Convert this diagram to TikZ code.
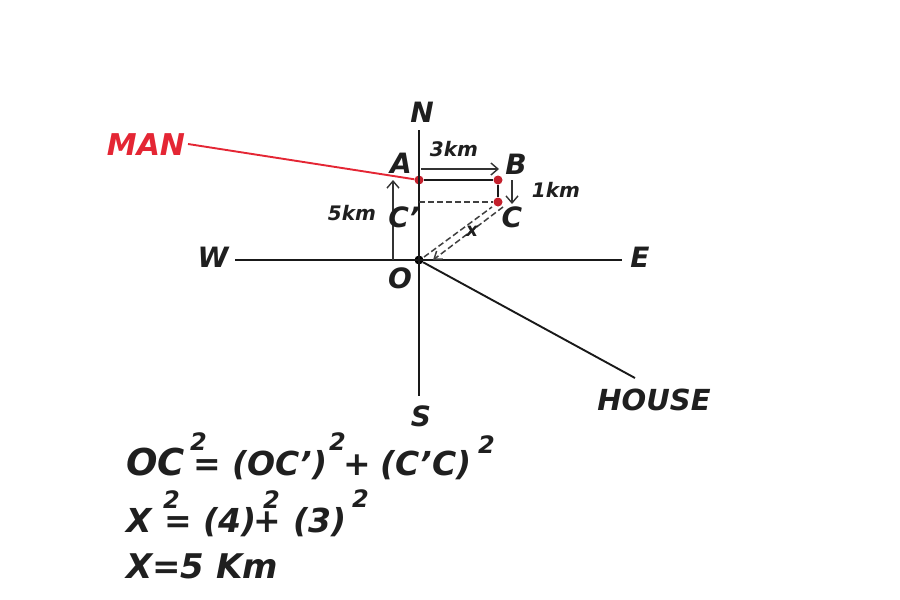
\documentclass[tikz,border=0pt]{standalone}
\usepackage{fontspec}
\setmainfont{DejaVu Sans}
\usetikzlibrary{arrows.meta}
\definecolor{manred}{RGB}{228,38,52}
\definecolor{dotred}{RGB}{196,32,44}
\tikzset{
 lab/.style={inner sep=0pt,font=\bfseries\itshape\fontsize{#1}{#1}\selectfont,text=black!88},
 lab/.default=28,
 dot/.style={circle,fill=#1,inner sep=0pt,minimum size=9pt},
 ln/.style={draw=black!90,line width=1.9pt},
 thin arrow/.style={draw=black!80,line width=1.4pt,-{Straight Barb[length=7pt,width=12pt]}},
 dash line/.style={draw=black!75,line width=1.5pt,dash pattern=on 6pt off 3pt}
}
\begin{document}
\begin{tikzpicture}[x=1pt,y=-1pt]
\useasboundingbox (0,0) rectangle (900,600);
% points
\node[dot=black] (O) at (419,260) {};
\node[dot=dotred] (A) at (419,180) {};
\node[dot=dotred] (B) at (498,180) {};
\node[dot=dotred] (C) at (498,202) {};
\coordinate (Cp) at (419,202);
\coordinate (Nt) at (419,130);
\coordinate (St) at (419,396);
\coordinate (Wt) at (235,260);
\coordinate (Et) at (622,260);
\coordinate (Ht) at (635,378);
\coordinate (Mt) at (188,144);
\coordinate (a5s) at (393,260);
\coordinate (a5e) at (393,180);
\coordinate (a3s) at (421,169);
\coordinate (a3e) at (499,169);
\coordinate (a1s) at (512,180);
\coordinate (a1e) at (512,204);
\coordinate (d1s) at (424,257);
\coordinate (d1e) at (492,207);
\coordinate (d2s) at (433,260);
\coordinate (d2e) at (503,207);
% lines
\draw[ln] (Nt) -- (St);
\draw[ln] (Wt) -- (Et);
\draw[ln] (O) -- (Ht);
\draw[ln] (A) -- (B);
\draw[ln] (B) -- (C);
\draw[draw=manred,line width=1.9pt] (Mt) -- (A);
\draw[dash line] (Cp) -- (C);
\draw[dash line] (d1s) -- (d1e);
\draw[dash line,-{Straight Barb[length=7pt,width=10pt]}] (d2e) -- (d2s);
\draw[thin arrow] (a5s) -- (a5e);
\draw[thin arrow] (a3s) -- (a3e);
\draw[thin arrow] (a1s) -- (a1e);
% labels
\node[lab] (Nl) at (422,112) {N};
\node[lab] (Sl) at (421,416) {S};
\node[lab] (Wl) at (213,257) {W};
\node[lab] (El) at (640,257) {E};
\node[lab] (Ol) at (400,278) {O};
\node[lab] (Al) at (401,163) {A};
\node[lab] (Bl) at (516,164) {B};
\node[lab] (Cl) at (512,217) {C};
\node[lab] (Cpl) at (404,217) {C'};
\node[lab=19] (xl) at (472,231) {x};
\node[lab=20] (k3) at (454,149) {3km};
\node[lab=20] (k1) at (556,190) {1km};
\node[lab=20] (k5) at (352,213) {5km};
\node[lab=30,text=manred] (man) at (146,145) {MAN};
\node[lab=29] (house) at (654,400) {HOUSE};
% equations
\node[lab=37,anchor=base west] (e1a) at (126,475) {OC};
\node[lab=33,anchor=base west] (e1b) at (193,475) {=};
\node[lab=33,anchor=base west] (e1c) at (232,475) {(OC')};
\node[lab=33,anchor=base west] (e1d) at (343,475) {+};
\node[lab=33,anchor=base west] (e1e) at (380,475) {(C'C)};
\node[lab=24,anchor=base west] (s1) at (190,450) {2};
\node[lab=24,anchor=base west] (s2) at (329,450) {2};
\node[lab=24,anchor=base west] (s3) at (478,453) {2};
\node[lab=33,anchor=base west] (e2a) at (126,532) {X};
\node[lab=33,anchor=base west] (e2b) at (164,532) {=};
\node[lab=33,anchor=base west] (e2c) at (203,532) {(4)};
\node[lab=33,anchor=base west] (e2d) at (253,532) {+};
\node[lab=33,anchor=base west] (e2e) at (293,532) {(3)};
\node[lab=24,anchor=base west] (s4) at (163,508) {2};
\node[lab=24,anchor=base west] (s5) at (263,508) {2};
\node[lab=24,anchor=base west] (s6) at (352,507) {2};
\node[lab=34,anchor=base west] (e3) at (126,578) {X=5 Km};
\end{tikzpicture}
\end{document}
